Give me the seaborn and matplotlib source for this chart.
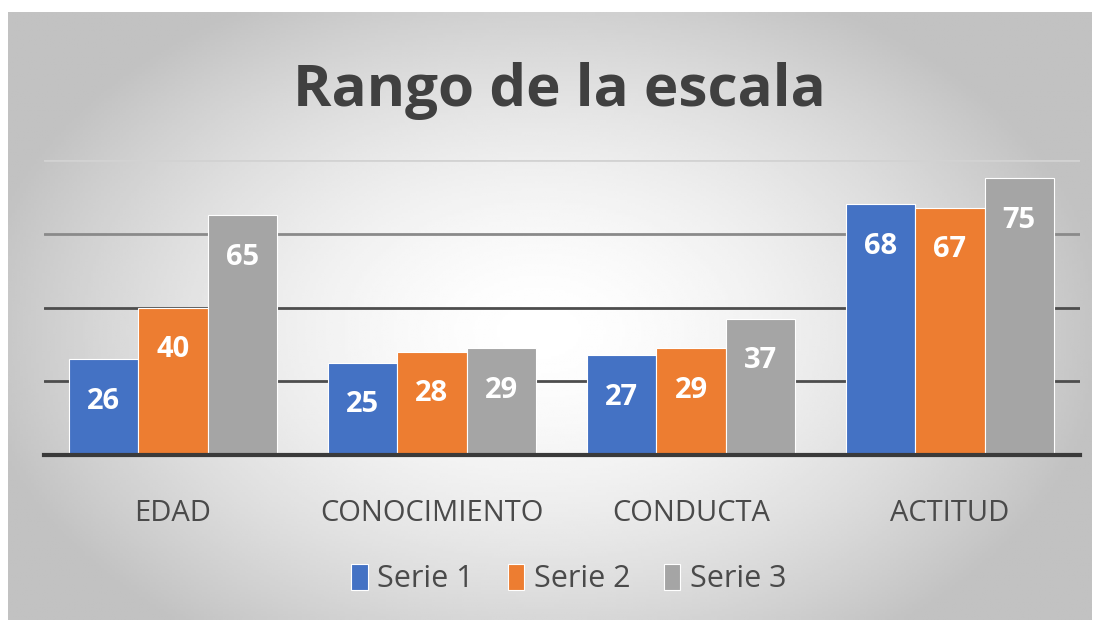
import numpy as np
import pandas as pd
import seaborn as sns
import matplotlib.pyplot as plt

categories = ["EDAD", "CONOCIMIENTO", "CONDUCTA", "ACTITUD"]
series_names = ["Serie 1", "Serie 2", "Serie 3"]
serie1 = [26, 25, 27, 68]
serie2 = [40, 28, 29, 67]
serie3 = [65, 29, 37, 75]
colors = ["#4472C4", "#ED7D31", "#A5A5A5"]

rows = []
for name, vals in zip(series_names, [serie1, serie2, serie3]):
    for cat, v in zip(categories, vals):
        rows.append({"categoria": cat, "serie": name, "valor": v})
df = pd.DataFrame(rows)

sns.set_theme(style="white")
plt.rcParams["font.family"] = ["Open Sans", "DejaVu Sans"]

fig = plt.figure(figsize=(11.02, 6.25), dpi=100)

# radial gray gradient behind the chart
bg = fig.add_axes([8 / 1102, 5 / 625, 1084 / 1102, 608 / 625], zorder=-10)
xx, yy = np.meshgrid(np.linspace(-1, 1, 400), np.linspace(-1, 1, 250))
r = np.sqrt(((xx + 0.02) / 1.05) ** 2 + ((yy - 0.05) / 1.25) ** 2)
shade = 1.0 - 0.24 * np.clip(r, 0, 1) ** 1.6
bg.imshow(shade, cmap="gray", vmin=0, vmax=1, aspect="auto", extent=[0, 1, 0, 1])
bg.set_axis_off()

ax = fig.add_axes([43.5 / 1102, 1 - 455 / 625, 1036 / 1102, 295 / 625])
ax.patch.set_alpha(0)
sns.barplot(data=df, x="categoria", y="valor", hue="serie", palette=colors,
            width=0.8, saturation=1, ax=ax, legend=True)

for patch in ax.patches:
    patch.set_edgecolor("white")
    patch.set_linewidth(0.8)

for container in ax.containers:
    for bar in container:
        h = bar.get_height()
        ax.annotate(f"{h:.0f}", (bar.get_x() + bar.get_width() / 2, h),
                    xytext=(0, -42), textcoords="offset pixels",
                    ha="center", va="center", color="white",
                    fontsize=21, fontweight="bold")

ax.set_ylim(0, 80)
ax.set_yticks([20, 40, 60, 80])
ax.set_yticklabels([])
ax.tick_params(axis="y", length=0)
ax.yaxis.grid(True, linewidth=2)
ax.set_axisbelow(True)
for gl, c in zip(ax.get_ygridlines(), ["#4d4d4d", "#4d4d4d", "#8a8a8a", "#d2d2d2"]):
    gl.set_color(c)

for side in ["top", "left", "right"]:
    ax.spines[side].set_visible(False)
ax.spines["bottom"].set_color("#3a3a3a")
ax.spines["bottom"].set_linewidth(3)

ax.set_xlabel("")
ax.set_ylabel("")
ax.tick_params(axis="x", length=0, pad=32, labelsize=21, labelcolor="#4a4a4a")

ax.legend(loc="center", bbox_to_anchor=(0.507, -0.42), ncol=3, frameon=False,
          fontsize=22, handlelength=0.55, handleheight=0.95, handletextpad=0.3,
          columnspacing=1.1, labelcolor="#4a4a4a")

fig.text(0.508, 0.855, "Rango de la escala", ha="center", va="center",
         fontsize=42, fontweight="bold", color="#404040")

fig.savefig("out.png", dpi=100)
